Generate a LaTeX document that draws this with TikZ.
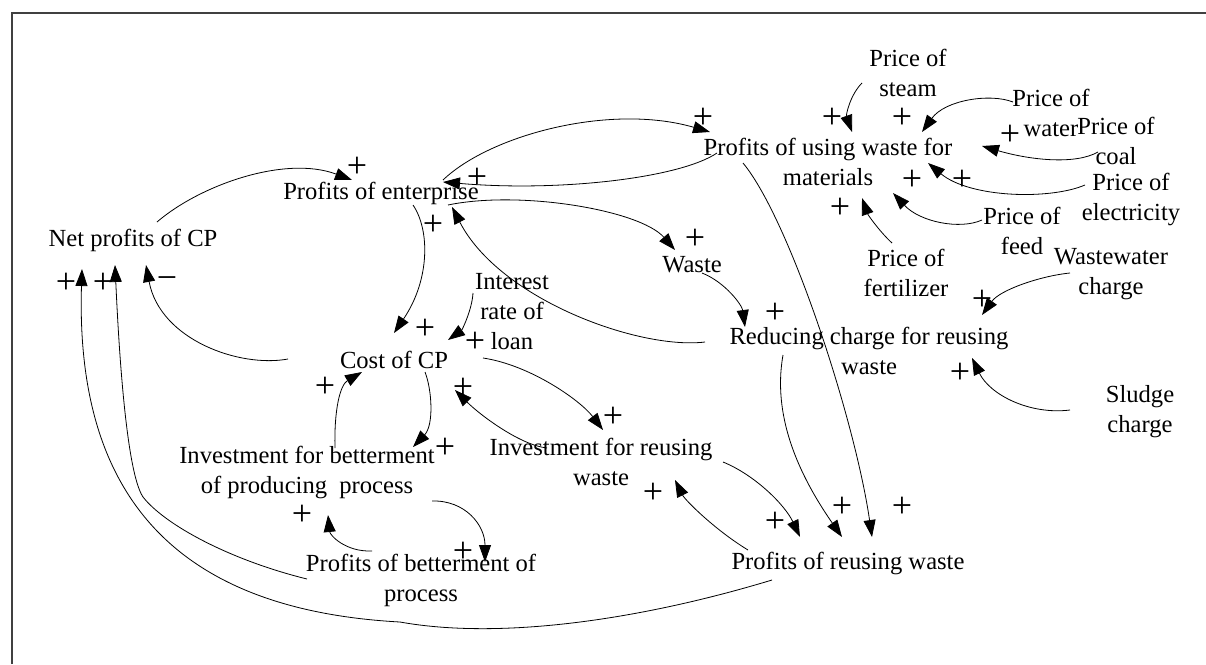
\documentclass[tikz,border=0pt]{standalone}
\usepackage{fontspec}
\setmainfont{Liberation Serif}
\usetikzlibrary{arrows.meta}
\tikzset{
  lbl/.style={inner sep=0pt, align=center, font=\fontsize{24.6}{30}\selectfont},
  pol/.style={inner sep=0pt, font=\fontsize{36}{36}\selectfont},
  lnk/.style={draw, line width=0.8pt, -{Triangle[length=17pt,width=12pt]}},
  frm/.style={line width=1.6pt, black!75}
}
\begin{document}
\begin{tikzpicture}[x=1pt,y=-1pt]
\useasboundingbox (0,0) rectangle (1206,664);
\draw[frm] (12,664) -- (12,13) -- (1206,13);

% variables
\node[lbl] (np) at (133,240) {Net profits of CP};
\node[lbl] (pe) at (381,193) {Profits of enterprise};
\node[lbl] (pu) at (828,162) {Profits of using waste for\\materials};
\node[lbl] (cost) at (394,360) {Cost of CP};
\node[lbl] (ir) at (512,312) {Interest\\rate of\\loan};
\node[lbl] (ib) at (307,472) {Investment for betterment\\of producing~ process};
\node[lbl] (pb) at (421,580) {Profits of betterment of\\process};
\node[lbl] (ir2) at (601,462) {Investment for reusing\\waste};
\node[lbl] (pr) at (848,563) {Profits of reusing waste};
\node[lbl] (w) at (692,265) {Waste};
\node[lbl] (rc) at (869,351) {Reducing charge for reusing\\waste};
\node[lbl] (ps) at (908,73) {Price of\\steam};
\node[lbl] (pw) at (1051,113) {Price of\\water};
\node[lbl] (pc) at (1116,141) {Price of\\coal};
\node[lbl] (pel) at (1131,199) {Price of\\electricity};
\node[lbl] (pf) at (1022,231) {Price of\\feed};
\node[lbl] (pfe) at (906,273) {Price of\\fertilizer};
\node[lbl] (ww) at (1111,274) {Wastewater\\charge};
\node[lbl] (sl) at (1140,412) {Sludge\\charge};

% connectors
\draw[lnk] ([shift={(24,-18)}]np.center) .. controls (200,185) and (285,155) .. ([shift={(-29,-13)}]pe.center);
\draw[lnk] ([shift={(62,-13)}]pe.center) .. controls (490,135) and (610,103) .. ([shift={(-118,-30)}]pu.center);
\draw[lnk] ([shift={(-111,-9)}]pu.center) .. controls (680,178) and (560,192) .. ([shift={(62,-11)}]pe.center);
\draw[lnk] ([shift={(32,12)}]pe.center) .. controls (430,230) and (430,280) .. ([shift={(0,-27)}]cost.center);
\draw[lnk] ([shift={(-164,-9)}]rc.center) .. controls (640,350) and (500,300) .. ([shift={(71,14)}]pe.center);
\draw[lnk] ([shift={(67,12)}]pe.center) .. controls (520,190) and (640,210) .. ([shift={(-17,-15)}]w.center);
\draw[lnk] ([shift={(10,8)}]w.center) .. controls (725,282) and (742,305) .. ([shift={(-124,-24)}]rc.center);
\draw[lnk] ([shift={(-39,-19)}]ir.center) .. controls (472,310) and (462,330) .. ([shift={(54,-20)}]cost.center);
\draw[lnk] ([shift={(28,-24)}]ib.center) .. controls (334,410) and (340,385) .. ([shift={(-32,12)}]cost.center);
\draw[lnk] ([shift={(31,12)}]cost.center) .. controls (432,390) and (434,425) .. ([shift={(106,-25)}]ib.center);
\draw[lnk] ([shift={(125,29)}]ib.center) .. controls (465,500) and (485,525) .. ([shift={(64,-18)}]pb.center);
\draw[lnk] ([shift={(-49,-29)}]pb.center) .. controls (345,552) and (330,535) .. ([shift={(21,43)}]ib.center);
\draw[lnk] ([shift={(89,-2)}]cost.center) .. controls (530,365) and (580,400) .. ([shift={(2,-32)}]ir2.center);
\draw[lnk] ([shift={(-54,-14)}]ir2.center) .. controls (520,445) and (480,415) .. ([shift={(61,30)}]cost.center);
\draw[lnk] ([shift={(-100,-13)}]pr.center) .. controls (715,530) and (685,500) .. ([shift={(74,18)}]ir2.center);
\draw[lnk] ([shift={(122,0)}]ir2.center) .. controls (755,475) and (785,505) .. ([shift={(-48,-26)}]pr.center);
\draw[lnk] ([shift={(-86,4)}]rc.center) .. controls (775,400) and (785,455) .. ([shift={(-6,-26)}]pr.center);
\draw[lnk] ([shift={(-85,1)}]pu.center) .. controls (790,220) and (855,420) .. ([shift={(24,-26)}]pr.center);
\draw[lnk] ([shift={(-76,17)}]pr.center) .. controls (640,620) and (500,640) .. (400,622) .. controls (180,610) and (75,500) .. ([shift={(-51,29)}]np.center);
\draw[lnk] ([shift={(-114,-1)}]pb.center) .. controls (230,560) and (165,525) .. (143,497) .. controls (125,470) and (118,330) .. ([shift={(-18,25)}]np.center);
\draw[lnk] ([shift={(-106,-1)}]cost.center) .. controls (240,368) and (160,340) .. ([shift={(13,25)}]np.center);
\draw[lnk] ([shift={(-46,10)}]ps.center) .. controls (850,95) and (846,115) .. ([shift={(24,-30)}]pu.center);
\draw[lnk] ([shift={(-38,-11)}]pw.center) .. controls (990,93) and (945,100) .. ([shift={(94,-30)}]pu.center);
\draw[lnk] ([shift={(-18,11)}]pc.center) .. controls (1075,165) and (1030,160) .. ([shift={(154,-16)}]pu.center);
\draw[lnk] ([shift={(-46,-14)}]pel.center) .. controls (1050,200) and (970,198) .. ([shift={(100,1)}]pu.center);
\draw[lnk] ([shift={(-40,-11)}]pf.center) .. controls (960,230) and (920,222) .. ([shift={(65,31)}]pu.center);
\draw[lnk] ([shift={(-14,-30)}]pfe.center) .. controls (880,232) and (868,215) .. ([shift={(34,36)}]pu.center);
\draw[lnk] ([shift={(-41,-1)}]ww.center) .. controls (1040,276) and (1000,290) .. ([shift={(113,-36)}]rc.center);
\draw[lnk] ([shift={(-70,-2)}]sl.center) .. controls (1030,415) and (990,395) .. ([shift={(103,7)}]rc.center);

% polarities
\node[pol] (p1) at (357,167) {+};
\node[pol] (p2) at (703,118) {+};
\node[pol] (p3) at (477,178) {+};
\node[pol] (p4) at (433,225) {+};
\node[pol] (p5) at (425,329) {+};
\node[pol] (p6) at (475,342) {+};
\node[pol] (p7) at (695,239) {+};
\node[pol] (p8) at (775,313) {+};
\node[pol] (p9) at (325,387) {+};
\node[pol] (p10) at (445,448) {+};
\node[pol] (p11) at (302,515) {+};
\node[pol] (p12) at (463,552) {+};
\node[pol] (p13) at (613,417) {+};
\node[pol] (p14) at (463,388) {+};
\node[pol] (p15) at (653,493) {+};
\node[pol] (p16) at (775,522) {+};
\node[pol] (p17) at (842,507) {+};
\node[pol] (p18) at (902,507) {+};
\node[pol] (p19) at (832,118) {+};
\node[pol] (p20) at (902,118) {+};
\node[pol] (p21) at (1010,135) {+};
\node[pol] (p22) at (962,180) {+};
\node[pol] (p23) at (912,180) {+};
\node[pol] (p24) at (840,208) {+};
\node[pol] (p25) at (982,300) {+};
\node[pol] (p26) at (960,373) {+};
\node[pol] (p27) at (66,283) {+};
\node[pol] (p28) at (103,283) {+};
\node[pol] (m1) at (167,283) {\char"2212};
\end{tikzpicture}
\end{document}
